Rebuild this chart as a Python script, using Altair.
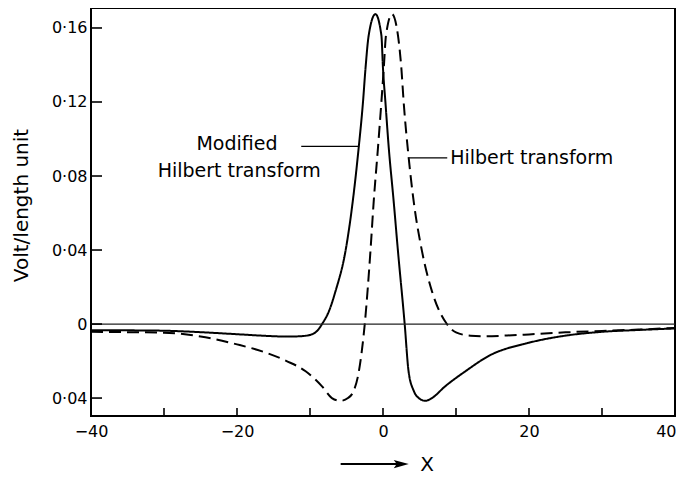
import altair as alt
import pandas as pd

# ---- data ----
solid_x = [-40, -35, -30, -25, -20, -16, -13, -11, -9.7, -9.0, -8.35, -7.4, -6.5, -5.14, -4.14, -3.32,
           -2.74, -2.4, -1.96, -1.04, -0.22, 0.0, 0.33, 0.78, 1.46, 2.05, 2.97, 3.5, 4.2, 4.9, 5.8,
           6.7, 8.5, 11.3, 14.5, 20, 25.3, 30, 35, 40]
solid_y = [-0.0033, -0.0034, -0.0036, -0.0044, -0.0055, -0.0064, -0.0068, -0.0065, -0.0055, -0.0036,
           0.0, 0.007, 0.0178, 0.0394, 0.0664, 0.0957, 0.120, 0.138, 0.156, 0.1675, 0.156, 0.138,
           0.120, 0.0957, 0.0664, 0.0394, 0.0, -0.0255, -0.036, -0.040, -0.0415, -0.040, -0.0337,
           -0.0255, -0.0172, -0.0101, -0.0061, -0.0042, -0.0032, -0.0024]

dashed_x = [-40, -35, -30, -25, -20, -16, -13.2, -10.6, -8.35, -7.0, -5.83, -4.8, -4.0, -3.3, -2.5,
            -1.72, -1.27, -0.68, -0.22, 0.1, 0.41, 1.23, 2.05, 2.52, 2.83, 3.52, 4.2, 5.34, 6.7,
            8.75, 10, 12, 14, 17, 20, 25, 30, 35, 40]
dashed_y = [-0.0042, -0.0044, -0.0047, -0.0067, -0.011, -0.0155, -0.020, -0.0255, -0.0337, -0.040,
            -0.0415, -0.040, -0.036, -0.0255, 0.0, 0.0394, 0.0664, 0.0957, 0.120, 0.138, 0.156,
            0.1675, 0.156, 0.138, 0.120, 0.0898, 0.0664, 0.0394, 0.0178, 0.0, -0.0045, -0.0063,
            -0.0066, -0.0062, -0.0056, -0.0045, -0.0037, -0.0030, -0.0021]

series_names = ["Modified Hilbert transform", "Hilbert transform"]

x_tick_values = [-40, -30, -20, -10, 0, 10, 20, 30, 40]
x_label_values = [-40, -20, 0, 20, 40]
y_tick_values = [-0.04, 0, 0.04, 0.08, 0.12, 0.16]
zero_line = [0.0]

# annotations (data coordinates)
center_text = ["Modified", "Hilbert transform"]
center_text_x = [-20.0, -19.7]
center_text_y = [0.0971, 0.0825]
left_text = ["Hilbert transform"]
left_text_x = [9.2]
left_text_y = [0.0898]
leader_x1 = [-11.2, 3.6]
leader_x2 = [-3.3, 8.8]
leader_y = [0.096, 0.0898]
arrow_x1 = [-5.8]
arrow_x2 = [2.5]
arrow_label = ["X"]
arrow_label_x = [5.1]

X_DOMAIN = [-40, 40]
Y_DOMAIN = [-0.0497, 0.1708]
W, H = 584, 408
FONT = "DejaVu Sans"

df = pd.concat([
    pd.DataFrame({"x": solid_x, "y": solid_y, "series": series_names[0]}),
    pd.DataFrame({"x": dashed_x, "y": dashed_y, "series": series_names[1]}),
])

xs = alt.Scale(domain=X_DOMAIN, nice=False, zero=False)
ys = alt.Scale(domain=Y_DOMAIN, nice=False, zero=False)

y_label_expr = "datum.value == 0 ? '0' : replace(format(abs(datum.value), '.2f'), '.', '·')"

x_axis = alt.Axis(values=x_label_values, format="d", title=None, ticks=False, tickSize=0,
                  domain=False, grid=False, labelPadding=7, labelFontSize=16, labelFont=FONT,
                  labelColor="black", labelFlush=False,
                  labelAlign={"condition": {"test": "datum.value == 40", "value": "right"},
                              "value": "center"},
                  labelOffset={"condition": {"test": "datum.value == 40", "value": 1}, "value": 0})
y_axis = alt.Axis(values=y_tick_values, labelExpr=y_label_expr, title="Volt/length unit",
                  ticks=False, tickSize=0, domain=False, grid=False, labelPadding=4,
                  labelFontSize=16, labelFont=FONT, labelColor="black", labelFlush=False,
                  titleFont=FONT, titleFontSize=20, titleFontWeight="normal", titleColor="black",
                  titlePadding=20, titleY=197)


def X(field="x"):
    return alt.X(f"{field}:Q", scale=xs, axis=x_axis)


def Y(field="y"):
    return alt.Y(f"{field}:Q", scale=ys, axis=y_axis)


lines = alt.Chart(df).mark_line(color="black", strokeWidth=2, interpolate="monotone").encode(
    x=X(), y=Y(),
    strokeDash=alt.StrokeDash("series:N", scale=alt.Scale(domain=series_names, range=[[1, 0], [12, 6]]),
                              legend=None),
    detail="series:N",
)

zero = alt.Chart(pd.DataFrame({"y": zero_line})).mark_rule(color="#222", strokeWidth=1.2).encode(y=Y())

xt = alt.Chart(pd.DataFrame({"x": x_tick_values})).mark_rule(color="black", strokeWidth=1.6).encode(
    x=X(), y=alt.value(H), y2=alt.value(H - 8)
)
yt = alt.Chart(pd.DataFrame({"y": y_tick_values})).mark_rule(color="black", strokeWidth=1.6).encode(
    y=Y(), x=alt.value(0), x2=alt.value(11)
)

txt_c = alt.Chart(pd.DataFrame({"t": center_text, "x": center_text_x, "y": center_text_y})).mark_text(
    font=FONT, fontSize=19, align="center", baseline="middle", color="black"
).encode(x=X(), y=Y(), text="t:N")

txt_l = alt.Chart(pd.DataFrame({"t": left_text, "x": left_text_x, "y": left_text_y})).mark_text(
    font=FONT, fontSize=19, align="left", baseline="middle", color="black"
).encode(x=X(), y=Y(), text="t:N")

leaders = alt.Chart(pd.DataFrame({"x": leader_x1, "x2": leader_x2, "y": leader_y})).mark_rule(
    color="black", strokeWidth=1.2
).encode(x=X(), x2="x2:Q", y=Y())

arrow = alt.Chart(pd.DataFrame({"x": arrow_x1, "x2": arrow_x2})).mark_rule(
    color="black", strokeWidth=1.8
).encode(x=X(), x2="x2:Q", y=alt.value(H + 48))

arrow_head = alt.Chart(pd.DataFrame({"x": arrow_x2})).mark_point(
    shape="M-1,-0.55L1,0L-1,0.55L-0.6,0Z", filled=True, color="black", size=225, opacity=1
).encode(x=X(), y=alt.value(H + 48))

arrow_txt = alt.Chart(pd.DataFrame({"t": arrow_label, "x": arrow_label_x})).mark_text(
    font=FONT, fontSize=20, align="left", baseline="middle", color="black"
).encode(x=X(), y=alt.value(H + 49), text="t:N")

chart = alt.layer(lines, zero, xt, yt, leaders, txt_c, txt_l, arrow, arrow_head, arrow_txt).properties(
    width=W, height=H, padding={"left": 3, "top": 0, "right": 0, "bottom": 0}
).configure_view(stroke="black", strokeWidth=2)

chart.save("out.html", embed_options={"renderer": "svg", "actions": False})
